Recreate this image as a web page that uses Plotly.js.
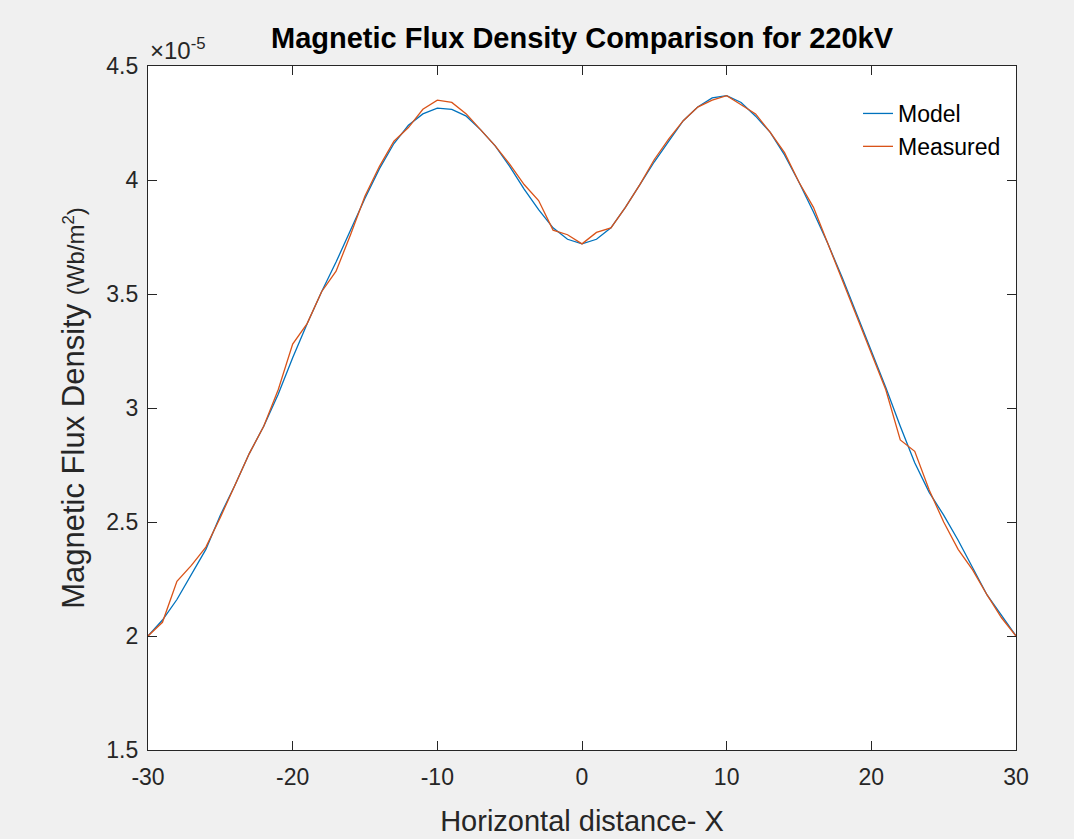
<!DOCTYPE html>
<html>
<head>
<meta charset="utf-8">
<script src="https://cdn.plot.ly/plotly-3.0.1.min.js"></script>
<style>html,body{margin:0;padding:0;background:#f0f0f0;}#chart{width:1074px;height:839px;}</style>
</head>
<body>
<div id="chart"></div>
<script>
// Horizontal distance (m)
const xValues = [-30,-29,-28,-27,-26,-25,-24,-23,-22,-21,-20,-19,-18,-17,-16,-15,-14,-13,-12,-11,-10,-9,-8,-7,-6,-5,-4,-3,-2,-1,0,1,2,3,4,5,6,7,8,9,10,11,12,13,14,15,16,17,18,19,20,21,22,23,24,25,26,27,28,29,30];
// Magnetic flux density, units of 1e-5 Wb/m^2
const modelValues = [2.00,2.07,2.16,2.27,2.38,2.53,2.66,2.80,2.92,3.06,3.22,3.37,3.51,3.64,3.78,3.92,4.05,4.16,4.24,4.29,4.315,4.31,4.28,4.22,4.15,4.06,3.96,3.87,3.79,3.74,3.72,3.74,3.79,3.88,3.98,4.08,4.17,4.26,4.32,4.36,4.37,4.34,4.28,4.21,4.11,3.99,3.86,3.72,3.57,3.41,3.25,3.09,2.92,2.76,2.63,2.53,2.42,2.30,2.18,2.09,2.00];
const measuredValues = [2.00,2.06,2.24,2.31,2.39,2.52,2.66,2.80,2.92,3.08,3.28,3.37,3.51,3.60,3.76,3.93,4.06,4.17,4.23,4.31,4.35,4.34,4.29,4.22,4.15,4.07,3.98,3.91,3.78,3.76,3.72,3.77,3.79,3.88,3.98,4.09,4.18,4.26,4.32,4.35,4.37,4.33,4.29,4.21,4.12,3.99,3.88,3.72,3.56,3.40,3.24,3.08,2.86,2.81,2.64,2.50,2.38,2.29,2.18,2.08,2.00];
const seriesNames = ["Model", "Measured"];
const xTicks = [-30,-20,-10,0,10,20,30];
const yTicks = [1.5,2,2.5,3,3.5,4,4.5];

const font = "Liberation Sans, Arial, Helvetica, sans-serif";
const traces = [
  {x: xValues, y: modelValues, name: seriesNames[0], type: "scatter", mode: "lines",
   line: {color: "#0072BD", width: 1.3}},
  {x: xValues, y: measuredValues, name: seriesNames[1], type: "scatter", mode: "lines",
   line: {color: "#D95319", width: 1.3}}
];
const axisCommon = {
  showgrid: false, zeroline: false, showline: true, linecolor: "#262626", linewidth: 1.2,
  mirror: "ticks", ticks: "inside", ticklen: 9, tickcolor: "#262626",
  tickfont: {family: font, size: 23, color: "#262626"}
};
const layout = {
  width: 1074, height: 839,
  paper_bgcolor: "#f0f0f0", plot_bgcolor: "#ffffff",
  margin: {l: 148, r: 58, t: 66, b: 89},
  title: {text: "<b>Magnetic Flux Density Comparison for 220kV</b>", font: {family: font, size: 29, color: "#000"},
          x: 0.5, xref: "paper", xanchor: "center", y: 1 - 38/839, yref: "container", yanchor: "middle"},
  xaxis: Object.assign({}, axisCommon, {range: [-30, 30], tickvals: xTicks, ticktext: xTicks.map(String), ticklabelstandoff: 6,
          title: {text: "Horizontal distance- X", font: {family: font, size: 29, color: "#262626"}, standoff: 22}}),
  yaxis: Object.assign({}, axisCommon, {range: [1.5, 4.5], tickvals: yTicks, ticklabelstandoff: 4,
          ticktext: yTicks.map(String),
          title: {text: "Magnetic Flux Density <span style='font-size:24px'>(Wb/m<sup>2</sup>)</span>", font: {family: font, size: 31, color: "#262626"}, standoff: 12}}),
  showlegend: true,
  legend: {x: 0.818, y: 0.962, xanchor: "left", yanchor: "top", bgcolor: "rgba(255,255,255,0)",
           borderwidth: 0, font: {family: font, size: 23, color: "#000"}, tracegroupgap: 0},
  annotations: [{xref: "paper", yref: "paper", x: 0, y: 1, xanchor: "left", yanchor: "bottom", yshift: 0,
                 text: "×10<sup>-5</sup>", showarrow: false, font: {family: font, size: 24, color: "#262626"}}]
};
Plotly.newPlot("chart", traces, layout, {displayModeBar: false, staticPlot: true});
</script>
</body>
</html>
